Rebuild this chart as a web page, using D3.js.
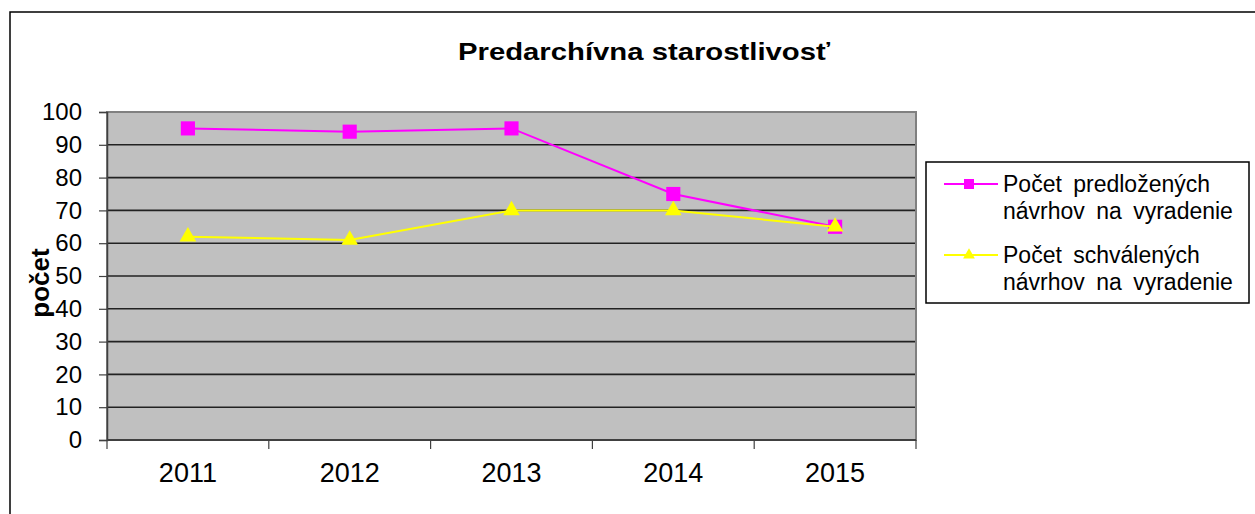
<!DOCTYPE html>
<html>
<head>
<meta charset="utf-8">
<script src="https://cdn.jsdelivr.net/npm/d3@7"></script>
<style>
  body { margin: 0; background: #fff; }
  text { font-family: "Liberation Sans", Arial, sans-serif; fill: #000; }
</style>
</head>
<body>
<div id="chart"></div>
<script>
// data
const years = ['2011', '2012', '2013', '2014', '2015'];
const predlozene = [95, 94, 95, 75, 65];   // Počet predložených návrhov na vyradenie
const schvalene = [62, 61, 70, 70, 65];    // Počet schválených návrhov na vyradenie
const yTicks = [0, 10, 20, 30, 40, 50, 60, 70, 80, 90, 100];
const seriesNames = [
    ['Počet predložených', 'návrhov na vyradenie'],
    ['Počet schválených', 'návrhov na vyradenie']
];

const width = 1255, height = 514;
const plot = {left: 107, right: 916, top: 112, bottom: 440};

const svg = d3.select('#chart').append('svg')
    .attr('width', width)
    .attr('height', height);

// outer chart frame (runs off the right and bottom)
svg.append('rect')
    .attr('x', 10).attr('y', 12)
    .attr('width', width + 20).attr('height', height + 20)
    .attr('fill', '#fff')
    .attr('stroke', '#000')
    .attr('stroke-width', 1.5);

const x = d3.scaleBand(years, [plot.left, plot.right]).padding(0);
const y = d3.scaleLinear([0, 100], [plot.bottom, plot.top]);

// plot background
svg.append('rect')
    .attr('x', plot.left).attr('y', plot.top)
    .attr('width', plot.right - plot.left)
    .attr('height', plot.bottom - plot.top)
    .attr('fill', '#c0c0c0');

// gridlines
svg.append('g')
    .selectAll('line')
    .data(yTicks.filter(d => d > 0 && d < 100))
    .join('line')
    .attr('x1', plot.left).attr('x2', plot.right)
    .attr('y1', d => y(d)).attr('y2', d => y(d))
    .attr('stroke', '#222')
    .attr('stroke-width', 1.6);

// plot border
svg.append('rect')
    .attr('x', plot.left).attr('y', plot.top)
    .attr('width', plot.right - plot.left)
    .attr('height', plot.bottom - plot.top)
    .attr('fill', 'none')
    .attr('stroke', '#808080')
    .attr('stroke-width', 2);

// y axis
const axisY = svg.append('g')
    .attr('transform', `translate(${plot.left},0)`)
    .call(d3.axisLeft(y).tickValues(yTicks).tickSize(8).tickPadding(17));
axisY.select('.domain').attr('stroke', '#404040').attr('stroke-width', 1.5);
axisY.selectAll('.tick line').attr('stroke', '#404040').attr('stroke-width', 1.2);
axisY.selectAll('.tick text')
    .attr('font-size', 24)
    .attr('font-family', '"Liberation Sans", Arial, sans-serif')
    .attr('fill', '#000');

// x axis: labels at band centres, ticks at band boundaries
const axisX = svg.append('g')
    .attr('transform', `translate(0,${plot.bottom})`)
    .call(d3.axisBottom(x).tickSize(0).tickPadding(23));
axisX.select('.domain').remove();
axisX.selectAll('.tick text')
    .attr('font-size', 27)
    .attr('font-family', '"Liberation Sans", Arial, sans-serif')
    .attr('fill', '#000');
axisX.append('line')
    .attr('x1', plot.left).attr('x2', plot.right)
    .attr('stroke', '#404040').attr('stroke-width', 2);
axisX.selectAll('.bound')
    .data(d3.range(years.length + 1))
    .join('line')
    .attr('x1', i => plot.left + i * x.step())
    .attr('x2', i => plot.left + i * x.step())
    .attr('y1', 0).attr('y2', 9)
    .attr('stroke', '#404040')
    .attr('stroke-width', 1.2);

// series
const series = [
    {values: predlozene, color: '#ff00ff', marker: d3.symbolSquare, size: 200},
    {values: schvalene, color: '#ffff00', marker: d3.symbolTriangle, size: 120}
];

const line = d3.line()
    .x((d, i) => x(years[i]) + x.bandwidth() / 2)
    .y(d => y(d));

series.forEach(s => {
    svg.append('path')
        .datum(s.values)
        .attr('d', line)
        .attr('fill', 'none')
        .attr('stroke', s.color)
        .attr('stroke-width', 2);
    svg.append('g')
        .selectAll('path')
        .data(s.values)
        .join('path')
        .attr('transform', (d, i) => `translate(${x(years[i]) + x.bandwidth() / 2},${y(d)})`)
        .attr('d', d3.symbol(s.marker, s.size))
        .attr('fill', s.color);
});

// title (source font is wider than Liberation Sans, so stretch it)
svg.append('text')
    .attr('x', 458).attr('y', 60)
    .attr('font-size', 24)
    .attr('font-weight', 'bold')
    .attr('textLength', 372)
    .attr('lengthAdjust', 'spacingAndGlyphs')
    .text('Predarchívna starostlivosť');

// y axis label
svg.append('text')
    .attr('transform', 'translate(49,283)rotate(-90)')
    .attr('text-anchor', 'middle')
    .attr('font-size', 26)
    .attr('font-weight', 'bold')
    .text('počet');

// legend
const legend = svg.append('g');
legend.append('rect')
    .attr('x', 926).attr('y', 162)
    .attr('width', 323).attr('height', 141)
    .attr('fill', '#fff')
    .attr('stroke', '#000')
    .attr('stroke-width', 1.5);

series.forEach((s, i) => {
    const cy = 184 + i * 71;
    const row = legend.append('g');
    row.append('line')
        .attr('x1', 944).attr('x2', 998)
        .attr('y1', cy).attr('y2', cy)
        .attr('stroke', s.color)
        .attr('stroke-width', 2);
    row.append('path')
        .attr('transform', `translate(969,${cy})`)
        .attr('d', d3.symbol(s.marker, s.size * 0.5))
        .attr('fill', s.color);
    row.selectAll('text')
        .data(seriesNames[i])
        .join('text')
        .attr('x', 1003)
        .attr('y', (d, j) => cy + 8 + j * 27)
        .attr('font-size', 23)
        .attr('word-spacing', 5)
        .text(d => d);
});
</script>
</body>
</html>
